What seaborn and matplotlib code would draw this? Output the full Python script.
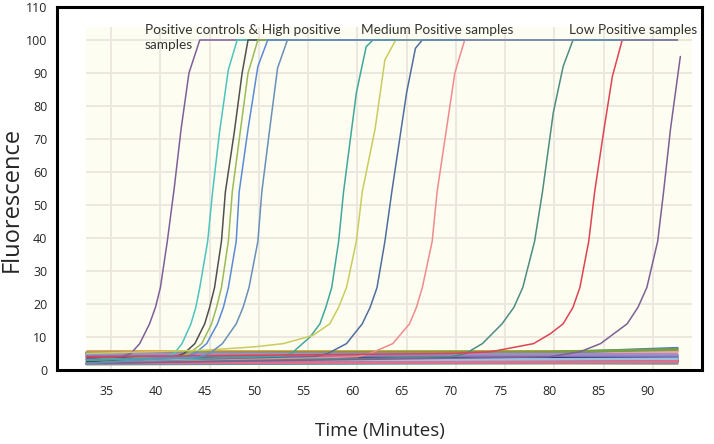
import matplotlib
matplotlib.use("Agg")
import matplotlib.pyplot as plt
import numpy as np
import pandas as pd
import seaborn as sns
from matplotlib.patches import Rectangle

# ---------------------------------------------------------------------------
# Data (time in minutes, fluorescence units)
# ---------------------------------------------------------------------------

# positive samples: (name, colour, times, values)
pc1_t = [33, 36.5, 37.5, 38.4, 39.4, 40.0, 40.5, 41.2, 41.9, 42.6, 43.4, 44.5, 93]
pc1_v = [3.5, 4, 5, 8, 14, 19, 25, 39, 55, 73, 90, 100, 100]
hp1_t = [33, 41, 41.9, 42.7, 43.6, 44.1, 44.5, 45.3, 45.8, 46.5, 47.4, 48.3, 93]
hp1_v = [3, 4, 5, 8, 14, 19, 25, 39, 54, 72, 91, 100, 100]
hp2_t = [33, 42, 42.9, 44.0, 45.0, 45.5, 46.0, 46.7, 47.1, 48.0, 48.8, 49.4, 93]
hp2_v = [2.5, 4, 5, 8, 14, 19, 25, 39, 54, 72, 90, 100, 100]
hp3_t = [33, 42.5, 43.4, 44.7, 45.7, 46.2, 46.7, 47.4, 47.8, 48.6, 49.4, 50.4, 93]
hp3_v = [3, 4, 5, 8, 14, 19, 25, 39, 54, 72, 90, 100, 100]
hp4_t = [33, 43, 44.0, 45.2, 46.3, 46.9, 47.4, 48.2, 48.5, 49.4, 50.4, 51.4, 93]
hp4_v = [3, 4, 5, 8, 14, 19, 25, 39, 54, 73, 92, 100, 100]
hp5_t = [33, 44.5, 45.5, 46.8, 48.2, 48.9, 49.5, 50.4, 50.8, 51.6, 52.4, 53.4, 93]
hp5_v = [2, 4, 5, 8, 14, 19, 25, 39, 54, 73, 91.5, 100, 100]
mp1_t = [33, 52.8, 53.8, 55.7, 56.7, 57.3, 57.9, 58.6, 59.1, 60.4, 61.4, 62.1, 93]
mp1_v = [3, 4, 5, 10, 14, 19, 25, 39, 54, 84, 98, 100, 100]
mp2_t = [33, 45, 50, 53, 56, 57.7, 58.6, 59.4, 60.4, 61.0, 62.3, 63.3, 64.4, 93]
mp2_v = [5, 6, 7, 8, 10.5, 14, 19, 25, 39, 54, 73, 94, 100, 100]
mp3_t = [33, 56, 57.5, 59.4, 61.0, 61.8, 62.5, 63.3, 64.0, 65.5, 66.4, 67.1, 93]
mp3_v = [2, 4, 5, 8, 14, 19, 25, 39, 54, 84, 97.5, 100, 100]
mp4_t = [33, 60.5, 61.8, 64.1, 65.8, 66.5, 67.1, 68.1, 68.6, 69.5, 70.4, 71.4, 93]
mp4_v = [2, 4, 5, 8, 14, 19, 25, 39, 54, 72, 90, 100, 100]
lp1_t = [33, 70, 71.5, 73.2, 75.2, 76.4, 77.3, 78.5, 79.3, 80.4, 81.4, 82.4, 93]
lp1_v = [2, 4, 5, 8, 14, 19, 25, 39, 54, 78, 92, 100, 100]
lp2_t = [33, 70, 74, 78.4, 80.1, 81.4, 82.4, 83.1, 84.0, 84.6, 85.5, 86.4, 87.4, 93]
lp2_v = [4, 5, 5.5, 8, 11, 14, 19, 25, 39, 54, 72, 89, 100, 100]
lp3_t = [33, 80, 83.1, 85.2, 87.9, 89.0, 89.9, 91.0, 91.6, 92.3, 93.3]
lp3_v = [2, 4, 5.5, 8, 14, 19, 25, 39, 54, 73, 95]

positives = [
    ("pc1", "#7F5F99", pc1_t, pc1_v),
    ("hp1", "#4CC4BE", hp1_t, hp1_v),
    ("hp2", "#505050", hp2_t, hp2_v),
    ("hp3", "#9BBB59", hp3_t, hp3_v),
    ("hp4", "#5B8BD6", hp4_t, hp4_v),
    ("mp1", "#3FA89A", mp1_t, mp1_v),
    ("mp2", "#C9CC5C", mp2_t, mp2_v),
    ("mp3", "#4E6E9E", mp3_t, mp3_v),
    ("mp4", "#F28B8B", mp4_t, mp4_v),
    ("lp1", "#4E8C80", lp1_t, lp1_v),
    ("lp2", "#DE4450", lp2_t, lp2_v),
    ("lp3", "#7E6095", lp3_t, lp3_v),
    ("hp5", "#6890B8", hp5_t, hp5_v),
]

# negative samples: flat baselines sampled at three times
neg_times = [33, 80, 93]
neg_names = ["n1", "n2", "n3", "n4", "n5", "n6", "n7",
             "n8", "n9", "n10", "n11", "n12", "n13", "n14"]
neg_colors = ["#F0902A", "#F2A0A0", "#9C86C0", "#8A72B0", "#4F81BD", "#77A040",
              "#203080", "#20A0A0", "#C0504D", "#2E7050", "#909090", "#9EC0E0",
              "#E07090", "#A08CC8"]
neg_values = [
    [5.8, 5.8, 5.8],
    [5.4, 5.4, 5.5],
    [4.6, 4.5, 4.4],
    [4.0, 4.0, 4.1],
    [4.9, 5.2, 6.6],
    [5.2, 5.5, 6.2],
    [3.5, 3.5, 3.5],
    [1.8, 2.2, 2.5],
    [2.7, 2.7, 2.7],
    [3.2, 3.1, 3.0],
    [2.3, 2.1, 2.0],
    [3.0, 3.2, 3.4],
    [2.0, 2.4, 2.6],
    [4.9, 4.8, 4.7],
]

x_ticks = [35, 40, 45, 50, 55, 60, 65, 70, 75, 80, 85, 90]
y_ticks = [0, 10, 20, 30, 40, 50, 60, 70, 80, 90, 100, 110]

labels = [
    ("Positive controls & High positive\nsamples", 38.9, 104.8),
    ("Medium Positive samples", 60.9, 104.8),
    ("Low Positive samples", 82.0, 104.8),
]

# ---------------------------------------------------------------------------
# Long-form tables
# ---------------------------------------------------------------------------

pos_rows = []
for name, _, ts, vs in positives:
    for t, v in zip(ts, vs):
        pos_rows.append({"sample": name, "time": t, "value": v})
pos_df = pd.DataFrame(pos_rows)
pos_palette = {name: col for name, col, _, _ in positives}

neg_rows = []
for name, vals in zip(neg_names, neg_values):
    for t, v in zip(neg_times, vals):
        neg_rows.append({"sample": name, "time": t, "value": v})
neg_df = pd.DataFrame(neg_rows)
neg_palette = dict(zip(neg_names, neg_colors))

# ---------------------------------------------------------------------------
# Plot
# ---------------------------------------------------------------------------

sns.set_style("white")
plt.rcParams["font.family"] = ["Open Sans", "DejaVu Sans"]

fig = plt.figure(figsize=(7.14, 4.44), dpi=100)
ax = fig.add_axes([57 / 714, 74 / 444, 645 / 714, 363 / 444])

# cream plotting panel with its own light grid
x0, x1, ytop = 32.9, 94.5, 104
ax.add_patch(Rectangle((x0, 0), x1 - x0, ytop, facecolor="#FEFDF2",
                       edgecolor="none", zorder=0))
ax.vlines([t + 0.5 for t in x_ticks], 0, ytop, color="#ECE8E0", lw=1.4, zorder=1)
ax.hlines(y_ticks[1:-1], x0, x1, color="#ECE8E0", lw=1.4, zorder=1)

sns.lineplot(data=neg_df, x="time", y="value", hue="sample", palette=neg_palette,
             hue_order=neg_names, estimator=None, sort=False, legend=False,
             linewidth=2.0, ax=ax, zorder=2)
sns.lineplot(data=pos_df, x="time", y="value", hue="sample", palette=pos_palette,
             hue_order=list(pos_palette), estimator=None, sort=False, legend=False,
             linewidth=1.1, ax=ax, zorder=3)

for text, tx, ty in labels:
    ax.text(tx, ty, text, fontsize=9.8, color="#333333", va="top", ha="left",
            family=["Lato", "DejaVu Sans"], linespacing=1.3, zorder=4)

ax.set_xlim(30, 95.5)
ax.set_ylim(0, 110)
ax.set_xticks(x_ticks)
ax.set_yticks(y_ticks)
ax.tick_params(axis="both", direction="out", length=4, width=1, color="black",
               labelsize=9, pad=3)
ax.tick_params(axis="x", pad=7)
for side in ["left", "right", "top", "bottom"]:
    ax.spines[side].set_visible(True)
    ax.spines[side].set_color("black")
    ax.spines[side].set_linewidth(2.2)
ax.set_facecolor("white")

ax.set_xlabel("Time (Minutes)", fontsize=13.5)
ax.set_ylabel("Fluorescence", fontsize=17)
ax.xaxis.set_label_coords(0.5, -0.143)
ax.yaxis.set_label_coords(-0.052, 0.47)

fig.savefig("out.png", dpi=100)
